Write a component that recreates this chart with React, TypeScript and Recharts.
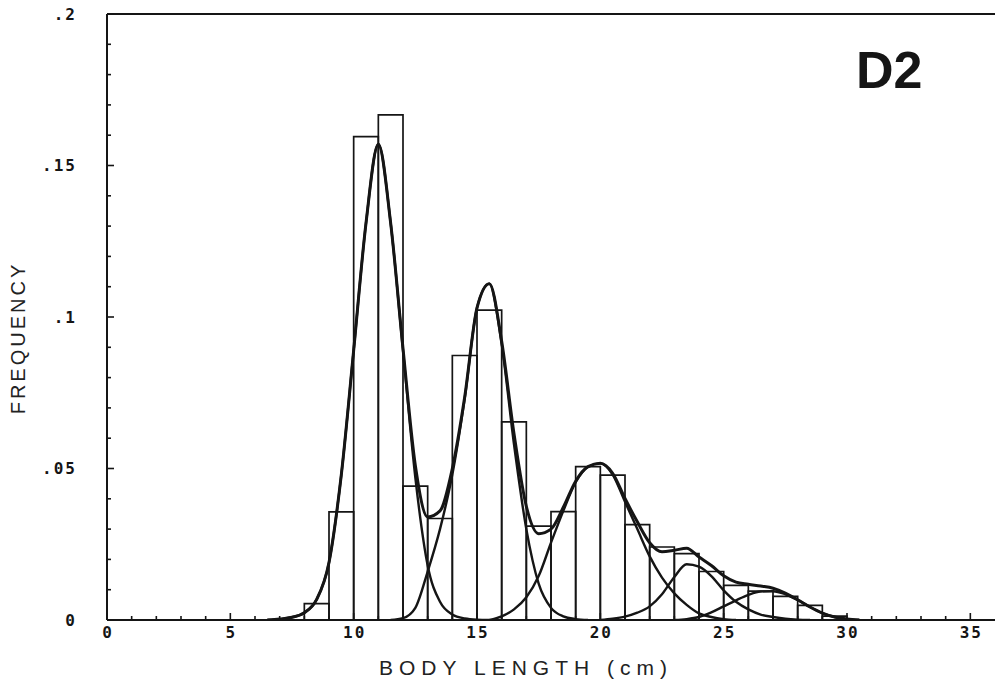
import React from "react";
import { LineChart, Line, XAxis, YAxis, ReferenceArea, ReferenceLine } from "recharts";

const INK = "#151515";

// histogram bins (1 cm wide, start of bin) and relative frequency
const binStarts = [8, 9, 10, 11, 12, 13, 14, 15, 16, 17, 18, 19, 20, 21, 22, 23, 24, 25, 26, 27, 28, 29];
const binFreq = [
  0.0054, 0.0357, 0.1595, 0.1667, 0.0442, 0.0335, 0.0873, 0.1023, 0.0654, 0.031, 0.0358,
  0.0506, 0.0478, 0.0315, 0.0241, 0.0219, 0.016, 0.0114, 0.0095, 0.0078, 0.0048, 0.0013,
];

// fitted curves, sampled every 0.5 cm
const lengths = [
  6.5, 7, 7.5, 8, 8.5, 9, 9.5, 10, 10.5, 11, 11.5, 12, 12.5, 13, 13.5, 14, 14.5, 15, 15.5, 16,
  16.5, 17, 17.5, 18, 18.5, 19, 19.5, 20, 20.5, 21, 21.5, 22, 22.5, 23, 23.5, 24, 24.5, 25,
  25.5, 26, 26.5, 27, 27.5, 28, 28.5, 29, 29.5, 30, 30.5,
];
const mixture = [
  0, 0.0003, 0.0009, 0.0024, 0.0068, 0.019, 0.048, 0.089, 0.131, 0.157, 0.131, 0.0896, 0.051,
  0.034, 0.036, 0.05, 0.0735, 0.103, 0.111, 0.092, 0.0615, 0.0375, 0.0285, 0.03, 0.0372,
  0.0458, 0.0506, 0.0517, 0.0484, 0.0401, 0.0324, 0.0255, 0.0225, 0.023, 0.0237, 0.0208, 0.018,
  0.0146, 0.0125, 0.0118, 0.0112, 0.0105, 0.0089, 0.0067, 0.0043, 0.0023, 0.001, 0.0003, 0,
];
const group1 = [
  0, 0.0003, 0.0009, 0.0024, 0.0068, 0.019, 0.048, 0.089, 0.131, 0.157, 0.131, 0.089, 0.047,
  0.018, 0.006, 0.0018, 0.0005, 0.0001, 0, null, null, null, null, null, null, null, null, null,
  null, null, null, null, null, null, null, null, null, null, null, null, null, null, null, null,
  null, null, null, null, null,
];
const group2 = [
  null, null, null, null, null, null, null, null, null, null, 0, 0.0006, 0.004, 0.016, 0.03,
  0.048, 0.073, 0.103, 0.111, 0.091, 0.058, 0.03, 0.012, 0.004, 0.0012, 0.0003, 0, null, null,
  null, null, null, null, null, null, null, null, null, null, null, null, null, null, null, null,
  null, null, null, null,
];
const group3 = [
  null, null, null, null, null, null, null, null, null, null, null, null, null, null, null, null,
  null, null, 0, 0.0012, 0.0035, 0.0075, 0.0145, 0.0255, 0.036, 0.0455, 0.0505, 0.0517, 0.048,
  0.039, 0.03, 0.021, 0.014, 0.0088, 0.005, 0.0022, 0.001, 0.0003, 0, null, null, null, null,
  null, null, null, null, null, null,
];
const group4 = [
  null, null, null, null, null, null, null, null, null, null, null, null, null, null, null, null,
  null, null, null, null, null, null, null, null, null, null, null, 0, 0.0004, 0.0011, 0.0024,
  0.0045, 0.0085, 0.0142, 0.0184, 0.0176, 0.0145, 0.0098, 0.006, 0.0035, 0.0018, 0.001, 0.0004,
  0.0001, 0, null, null, null, null,
];
const group5 = [
  null, null, null, null, null, null, null, null, null, null, null, null, null, null, null, null,
  null, null, null, null, null, null, null, null, null, null, null, null, null, null, null, null,
  null, 0, 0.0003, 0.001, 0.0025, 0.0045, 0.0065, 0.0083, 0.0094, 0.0095, 0.0085, 0.0066,
  0.0043, 0.0023, 0.001, 0.0003, 0,
];

const xTicks = [0, 1, 2, 3, 4, 5, 6, 7, 8, 9, 10, 11, 12, 13, 14, 15, 16, 17, 18, 19, 20, 21, 22, 23, 24, 25, 26, 27, 28, 29, 30, 31, 32, 33, 34, 35];
const yTicks = [0, 0.01, 0.02, 0.03, 0.04, 0.05, 0.06, 0.07, 0.08, 0.09, 0.1, 0.11, 0.12, 0.13, 0.14, 0.15, 0.16, 0.17, 0.18, 0.19, 0.2];

const rows = lengths.map((x, i) => ({
  x,
  mix: mixture[i],
  g1: group1[i],
  g2: group2[i],
  g3: group3[i],
  g4: group4[i],
  g5: group5[i],
}));

const tickFont = {
  fontFamily: "DejaVu Sans Mono",
  fontWeight: 700,
  fontSize: 16,
  letterSpacing: 2,
  fill: INK,
};

function XTick(props: any) {
  const { x, y, payload } = props;
  const v = payload.value;
  const major = v % 5 === 0;
  return (
    <g>
      <line x1={x} x2={x} y1={y} y2={y - (major ? 7 : 4)} stroke={INK} strokeWidth={1.6} />
      {major && (
        <text x={x + 1} y={y + 18} textAnchor="middle" {...tickFont}>
          {v}
        </text>
      )}
    </g>
  );
}

function YTick(props: any) {
  const { x, y, payload } = props;
  const v = payload.value;
  const major = Math.round(v * 100) % 5 === 0;
  const label = v === 0 ? "0" : String(v).replace(/^0/, "");
  return (
    <g>
      <line x1={x} x2={x + (major ? 7 : 4)} y1={y} y2={y} stroke={INK} strokeWidth={1.6} />
      {major && (
        <text x={x - 30} y={y} dy="0.35em" textAnchor="end" {...tickFont}>
          {label}
        </text>
      )}
    </g>
  );
}

export default function App() {
  const curve = (key: string, w: number) => (
    <Line
      key={key}
      type="monotone"
      dataKey={key}
      stroke={INK}
      strokeWidth={w}
      dot={false}
      activeDot={false}
      isAnimationActive={false}
    />
  );
  return (
    <div style={{ position: "absolute", left: 0, top: 0, width: 995, height: 685, background: "#fff" }}>
      <LineChart
        width={995}
        height={685}
        data={rows}
        margin={{ top: 14, right: 0, bottom: 0, left: 0 }}
      >
        <XAxis
          dataKey="x"
          type="number"
          domain={[0, 36]}
          ticks={xTicks}
          interval={0}
          height={65}
          tickSize={0}
          tickMargin={0}
          tickLine={false}
          tick={<XTick />}
          axisLine={{ stroke: INK, strokeWidth: 2 }}
          allowDataOverflow
        />
        <YAxis
          type="number"
          domain={[0, 0.2]}
          ticks={yTicks}
          interval={0}
          width={107}
          tickSize={0}
          tickMargin={0}
          tickLine={false}
          tick={<YTick />}
          axisLine={{ stroke: INK, strokeWidth: 2 }}
          allowDataOverflow
        />
        <ReferenceLine y={0.2} stroke={INK} strokeWidth={2} />
        {binStarts.map((s, i) => (
          <ReferenceArea
            key={s}
            x1={s}
            x2={s + 1}
            y1={0}
            y2={binFreq[i]}
            fill="none"
            fillOpacity={0}
            stroke={INK}
            strokeWidth={1.7}
            strokeOpacity={1}
          />
        ))}
        {curve("g1", 2.4)}
        {curve("g2", 2.4)}
        {curve("g3", 2.4)}
        {curve("g4", 2.4)}
        {curve("g5", 2.4)}
        {curve("mix", 3)}
      </LineChart>
      <div
        style={{
          position: "absolute",
          left: 18,
          top: 338,
          transform: "translate(-50%, -50%) rotate(-90deg)",
          fontFamily: "Liberation Sans",
          fontSize: 20,
          letterSpacing: 3,
          color: "#222",
          whiteSpace: "nowrap",
        }}
      >
        FREQUENCY
      </div>
      <div
        style={{
          position: "absolute",
          left: 526,
          top: 668,
          transform: "translate(-50%, -50%)",
          fontFamily: "Liberation Sans",
          fontSize: 21,
          letterSpacing: 6,
          color: "#222",
          whiteSpace: "nowrap",
        }}
      >
        BODY LENGTH (cm)
      </div>
      <div
        style={{
          position: "absolute",
          left: 856,
          top: 44,
          fontFamily: "Liberation Sans",
          fontWeight: 700,
          fontSize: 52,
          lineHeight: "52px",
          color: INK,
        }}
      >
        D2
      </div>
    </div>
  );
}
